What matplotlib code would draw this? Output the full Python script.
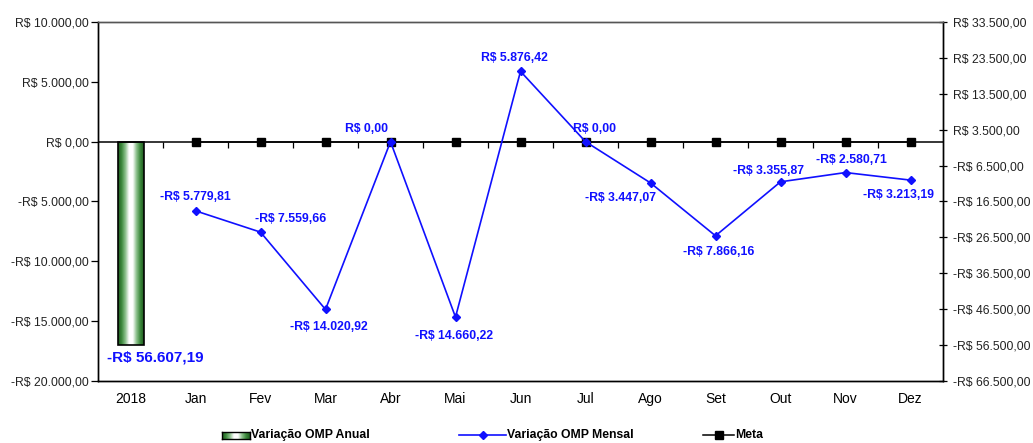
import numpy as np
import matplotlib
matplotlib.use("Agg")
import matplotlib.pyplot as plt
from matplotlib.colors import LinearSegmentedColormap
from matplotlib.lines import Line2D
from matplotlib.ticker import FuncFormatter, FixedLocator

plt.rcParams['font.family'] = ['Liberation Sans', 'DejaVu Sans']

# ---- data ----
categories = ["2018", "Jan", "Fev", "Mar", "Abr", "Mai", "Jun",
              "Jul", "Ago", "Set", "Out", "Nov", "Dez"]
annual_value = -56607.19
monthly_values = [-5779.81, -7559.66, -14020.92, 0.00, -14660.22, 5876.42,
                  0.00, -3447.07, -7866.16, -3355.87, -2580.71, -3213.19]
meta_values = [0.0] * 12
left_ticks = [-20000, -15000, -10000, -5000, 0, 5000, 10000]
right_ticks = [-66500, -56500, -46500, -36500, -26500, -16500, -6500,
               3500, 13500, 23500, 33500]

# label offsets (pixels) for each monthly value
label_offsets = [(0, 14), (30, 13), (3, -18), (-24, 13), (-1, -19), (-6, 13),
                 (9, 13), (-30, -15), (3, -16), (-12, 11), (6, 13), (-12, -15)]

BLUE = "#1010ff"
TICK_FS = 8.8


def brl(v, pos=None):
    s = f"{abs(v):,.2f}"
    s = s.replace(",", "X").replace(".", ",").replace("X", ".")
    return ("-R$ " if v < 0 else "R$ ") + s


fig = plt.figure(figsize=(10.33, 4.43), dpi=100)
ax = fig.add_axes([98 / 1033, 1 - 381 / 443, 845 / 1033, 359 / 443])
ax2 = ax.twinx()

x_all = np.arange(len(categories))
x_months = x_all[1:]

# right axis: annual bar with gradient fill
ax2.set_ylim(-66500, 33500)
bar_w = 0.4
bars = ax2.bar([x_all[0]], [annual_value], width=bar_w, facecolor="none",
               edgecolor="black", linewidth=1.2, zorder=3)
grad_cmap = LinearSegmentedColormap.from_list(
    "g", ["#1e5a1e", "#3d8a3d", "#8cc08c", "#ffffff", "#ffffff", "#8cc08c", "#3d8a3d", "#1e5a1e"])
grad = np.linspace(0, 1, 256).reshape(1, -1)
b = bars[0]
im = ax2.imshow(grad, cmap=grad_cmap, aspect="auto",
                extent=[b.get_x(), b.get_x() + b.get_width(), annual_value, 0],
                zorder=2)
im.set_clip_path(b)
ax2.annotate(brl(annual_value), (x_all[0], annual_value), xytext=(25, -12),
             textcoords="offset pixels", ha="center", va="center",
             color=BLUE, fontsize=11, fontweight="bold")

# left axis: monthly variation and target
ax.set_ylim(-20000, 10000)
ax.set_xlim(-0.5, len(categories) - 0.5)
ax.axhline(0, color="black", lw=1.1, zorder=1)
ax.plot(np.arange(0.5, len(categories) - 0.5), np.zeros(len(categories) - 1),
        linestyle="none", marker=3, markersize=4, color="black",
        markeredgewidth=0.9, zorder=1)
ax.plot(x_months, meta_values, color="black", lw=1.1, marker="s",
        markersize=6, zorder=4)
ax.plot(x_months, monthly_values, color=BLUE, lw=1.2, marker="D",
        markersize=4.5, zorder=5)
for xi, v, (dx, dy) in zip(x_months, monthly_values, label_offsets):
    ax.annotate(brl(v), (xi, v), xytext=(dx, dy), textcoords="offset pixels",
                ha="center", va="center", color=BLUE, fontsize=8.8,
                fontweight="bold", zorder=6)

ax.set_zorder(ax2.get_zorder() + 1)
ax.patch.set_visible(False)

# axes formatting
ax.yaxis.set_major_locator(FixedLocator(left_ticks))
ax.yaxis.set_major_formatter(FuncFormatter(brl))
ax2.yaxis.set_major_locator(FixedLocator(right_ticks))
ax2.yaxis.set_major_formatter(FuncFormatter(brl))
ax.set_xticks(x_all)
ax.set_xticklabels(categories)
ax.tick_params(axis="x", length=0, pad=8, labelsize=10, colors="black")
ax.tick_params(axis="y", direction="out", length=5, width=0.9,
               labelsize=TICK_FS, pad=1.5, labelcolor="#222222")
ax2.tick_params(axis="y", direction="inout", length=6, width=0.9,
                labelsize=TICK_FS, pad=4, labelcolor="#222222")
for a in (ax, ax2):
    for sp in a.spines.values():
        sp.set_linewidth(1.0)
        sp.set_color("black")
ax.spines["top"].set_color("#555555")
ax2.spines["top"].set_color("#555555")

# legend along the bottom
ly = 1 - 435 / 443
LEG_FS = 8.8
gax = fig.add_axes([222 / 1033, ly - 3.5 / 443, 28 / 1033, 7 / 443])
gax.imshow(grad, cmap=grad_cmap, aspect="auto")
gax.set_xticks([])
gax.set_yticks([])
for sp in gax.spines.values():
    sp.set_color("black")
    sp.set_linewidth(1.0)
fig.text(251 / 1033, ly, "Variação OMP Anual", ha="left", va="center",
         fontsize=LEG_FS, fontweight="bold")
fig.add_artist(Line2D([459 / 1033, 506 / 1033], [ly, ly], color=BLUE, lw=1.2,
                      transform=fig.transFigure))
fig.add_artist(Line2D([482.5 / 1033], [ly], color=BLUE, marker="D",
                      markersize=4.5, transform=fig.transFigure))
fig.text(507 / 1033, ly, "Variação OMP Mensal", ha="left", va="center",
         fontsize=LEG_FS, fontweight="bold")
fig.add_artist(Line2D([703 / 1033, 734 / 1033], [ly, ly], color="black", lw=1.1,
                      transform=fig.transFigure))
fig.add_artist(Line2D([718.5 / 1033], [ly], color="black", marker="s",
                      markersize=6, transform=fig.transFigure))
fig.text(735 / 1033, ly, "Meta", ha="left", va="center",
         fontsize=LEG_FS, fontweight="bold")

fig.savefig("out.png", dpi=100)
